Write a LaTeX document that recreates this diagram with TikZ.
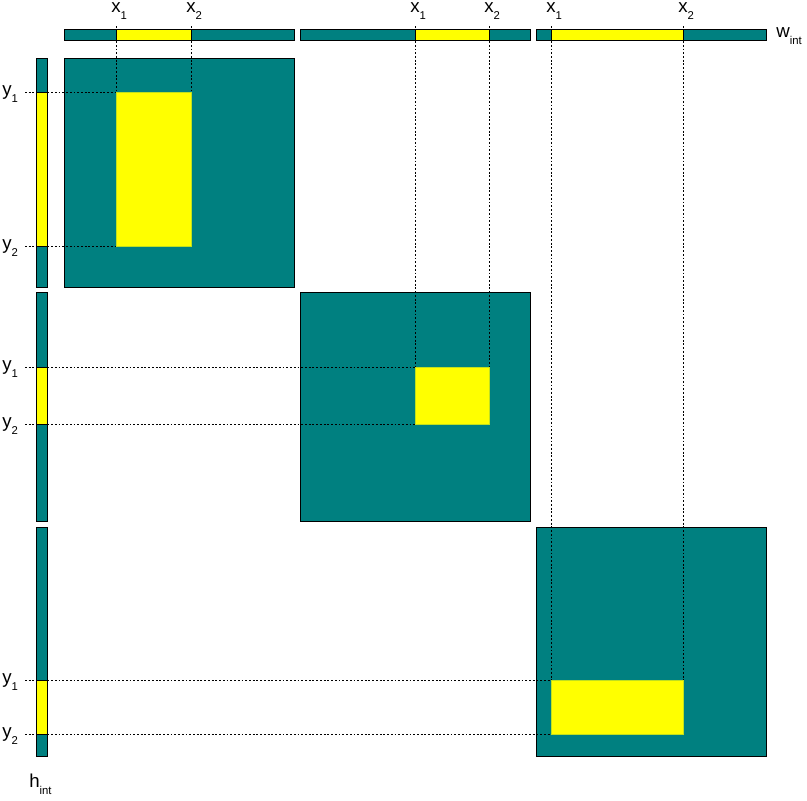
\documentclass[tikz,border=0pt]{standalone}
\usepackage{fontspec}
\setmainfont{Liberation Sans}
\usetikzlibrary{positioning}
\definecolor{MapTeal}{HTML}{008080}
\definecolor{MapYellow}{HTML}{FFFF00}
\tikzset{
  cell/.style={draw=black, line width=0.75pt, fill=MapTeal},
  window/.style={draw=black, line width=0.75pt, fill=MapYellow},
  region/.style={draw=MapYellow!75!MapTeal, line width=0.5pt, fill=MapYellow},
  guide/.style={draw=black, line width=0.6pt, dash pattern=on 1.4pt off 1.4pt},
  coordlabel/.style={font=\fontsize{14}{16}\selectfont, inner sep=0pt, anchor=base}
}
\newcommand{\sublabel}[2]{#1\rlap{\raisebox{-5.5pt}{\fontsize{8.5}{10}\selectfont #2}}}

\begin{document}
\begin{tikzpicture}[x=0.75pt, y=-0.75pt]
  \useasboundingbox (0,0) rectangle (807,800);
  \foreach \i/\sx/\sy/\xa/\xb/\ya/\yb in {0/64/58/116/191/92/246,
      1/300/292/415/489/367/424, 2/536/527/551/683/680/734} {
    % interval bars
    \draw[cell] (\sx,29) rectangle ++(230,11);
    \draw[window] (\xa,29) rectangle (\xb,40);
    \draw[cell] (36,\sy) rectangle ++(11,229);
    \draw[window] (36,\ya) rectangle (47,\yb);
    % block with its region
    \draw[cell] (\sx,\sy) rectangle ++(230,229);
    \fill[region] (\xa,\ya) rectangle (\xb,\yb);
    \draw[region, fill=none] (\xa,\ya) rectangle (\xb,\yb);
    \coordinate (ca\i) at (\xa,\ya);
    \coordinate (cb\i) at (\xb,\ya);
    \coordinate (cd\i) at (\xa,\yb);
    \coordinate (ga\i) at (25,\ya);
    \coordinate (gb\i) at (25,\yb);
    % labels
    \node[coordlabel] (xa\i) at (\xa,12.5) {\sublabel{x}{1}};
    \node[coordlabel] (xb\i) at (\xb,12.5) {\sublabel{x}{2}};
    \node[coordlabel] (ya\i) at (7,\ya+3) {\sublabel{y}{1}};
    \node[coordlabel] (yb\i) at (7,\yb+3) {\sublabel{y}{2}};
    % guides
    \draw[guide] ([yshift=-4.5pt]xa\i.south) -- (ca\i);
    \draw[guide] ([yshift=-4.5pt]xb\i.south) -- (cb\i);
    \draw[guide] (ga\i) -- (ca\i);
    \draw[guide] (gb\i) -- (cd\i);
  }
  \node[coordlabel, anchor=base west] (wint) at (776,37) {\sublabel{w}{int}};
  \node[coordlabel, anchor=base west] (hint) at (29,787) {\sublabel{h}{int}};
\end{tikzpicture}
\end{document}
